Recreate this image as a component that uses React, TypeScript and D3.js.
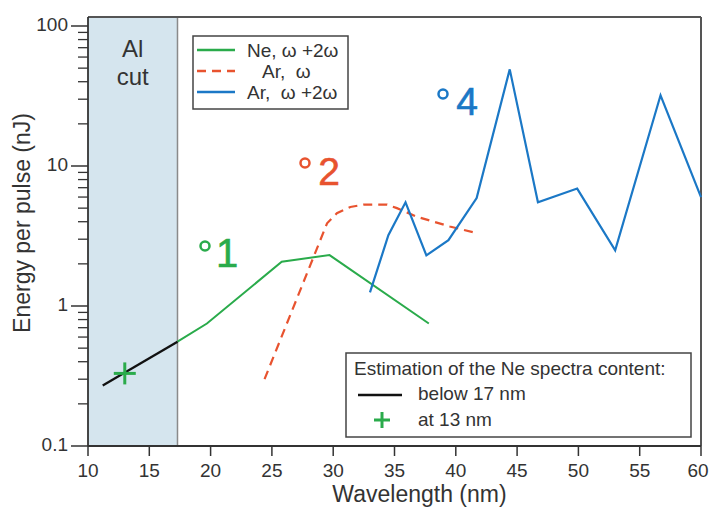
import React from "react";
import * as d3 from "d3";

const xTicks = [10, 15, 20, 25, 30, 35, 40, 45, 50, 55, 60];
const yTicks = [0.1, 1, 10, 100];
const yTickLabels = ["0.1", "1", "10", "100"];

const estWave = [11.2, 17.3];
const estVals = [0.27, 0.556];
const est13Wave = 13;
const est13Val = 0.33;

const neWave = [17.3, 19.7, 25.8, 29.7, 37.8];
const neVals = [0.556, 0.75, 2.07, 2.31, 0.75];

const arWWave = [24.4, 29.5, 30.3, 31.4, 32.5, 34.4, 35.2, 36.8, 39.5, 41.8];
const arWVals = [0.3, 3.9, 4.6, 5.1, 5.3, 5.3, 5.0, 4.35, 3.7, 3.3];

const arW2Wave = [33.0, 34.5, 35.9, 37.6, 39.4, 41.7, 44.4, 46.7, 49.9, 53.0, 56.7, 60];
const arW2Vals = [1.25, 3.2, 5.5, 2.3, 2.95, 5.9, 49, 5.5, 6.9, 2.5, 32, 6.0];

const alCutEdge = 17.3;

const GREEN = "#2aab4b";
const ORANGE = "#e8532f";
const BLUE = "#1b78c6";
const AXIS = "#333";
const FONT = "'Liberation Sans', Arial, Helvetica, sans-serif";

export default function App() {
  const W = 709, H = 509;
  const left = 88, right = 701, top = 17, bottom = 446;
  const x = d3.scaleLinear().domain([10, 60]).range([left, right]);
  const y = d3.scaleLog().domain([0.1, 100]).range([446, 26]);

  const line = d3.line<[number, number]>().x(d => x(d[0])).y(d => y(d[1]));
  const zip = (a: number[], b: number[]) => a.map((v, i) => [v, b[i]] as [number, number]);

  const minor: number[] = [];
  [0.1, 1, 10].forEach(dec => { for (let k = 2; k <= 9; k++) minor.push(dec * k); });

  const cx13 = x(est13Wave), cy13 = y(est13Val);

  return (
    <svg width={W} height={H} style={{ position: "absolute", left: 0, top: 0, background: "#fff" }} fontFamily={FONT}>
      {/* Al cut region */}
      <rect x={left} y={top} width={x(alCutEdge) - left} height={bottom - top} fill="#d5e5ee" />
      <line x1={x(alCutEdge)} x2={x(alCutEdge)} y1={top} y2={bottom} stroke="#8a8a8a" strokeWidth={1.5} />
      <text x={(left + x(alCutEdge)) / 2} y={57} textAnchor="middle" fontSize={24} fill="#333">Al</text>
      <text x={(left + x(alCutEdge)) / 2} y={85} textAnchor="middle" fontSize={24} fill="#333">cut</text>

      {/* frame */}
      <line x1={left} x2={right} y1={top} y2={top} stroke="#555" strokeWidth={2} />
      <line x1={right} x2={right} y1={top} y2={bottom} stroke="#555" strokeWidth={2} />
      <line x1={left} x2={left} y1={top} y2={bottom} stroke={AXIS} strokeWidth={1.8} />
      <line x1={left} x2={right} y1={bottom} y2={bottom} stroke={AXIS} strokeWidth={1.8} />

      {/* y ticks */}
      {yTicks.map((t, i) => (
        <g key={"yt" + t}>
          <line x1={left - 17} x2={left} y1={y(t)} y2={y(t)} stroke={AXIS} strokeWidth={1.5} />
          <text x={left - 20} y={y(t) + 5} textAnchor="end" fontSize={19} fill="#333">{yTickLabels[i]}</text>
        </g>
      ))}
      {minor.map(t => (
        <line key={"ym" + t} x1={left - 10} x2={left} y1={y(t)} y2={y(t)} stroke={AXIS} strokeWidth={1.3} />
      ))}

      {/* x ticks */}
      {xTicks.map((t, i) => (
        <g key={"xt" + t}>
          <line x1={x(t)} x2={x(t)} y1={bottom} y2={bottom + 10} stroke={AXIS} strokeWidth={1.5} />
          <text x={i === xTicks.length - 1 ? x(t) - 3 : x(t)} y={477} textAnchor="middle" fontSize={19} fill="#333">{t}</text>
        </g>
      ))}

      <text x={(left + right) / 2 + 25} y={502} textAnchor="middle" fontSize={23} fill="#333">Wavelength (nm)</text>
      <text transform={`translate(30,223) rotate(-90)`} textAnchor="middle" fontSize={23} fill="#333">Energy per pulse (nJ)</text>

      {/* data */}
      <path d={line(zip(neWave, neVals)) || ""} fill="none" stroke={GREEN} strokeWidth={2} />
      <path d={line(zip(arWWave, arWVals)) || ""} fill="none" stroke={ORANGE} strokeWidth={2.2} strokeDasharray="9,6" />
      <path d={line(zip(arW2Wave, arW2Vals)) || ""} fill="none" stroke={BLUE} strokeWidth={2.2} />
      <path d={line(zip(estWave, estVals)) || ""} fill="none" stroke="#111" strokeWidth={2.3} />
      <line x1={cx13 - 11} x2={cx13 + 11} y1={cy13} y2={cy13} stroke={GREEN} strokeWidth={3} />
      <line x1={cx13} x2={cx13} y1={cy13 - 11} y2={cy13 + 11} stroke={GREEN} strokeWidth={3} />

      {/* annotations */}
      <circle cx={205} cy={246} r={4.5} fill="none" stroke={GREEN} strokeWidth={2.5} />
      <text x={227} y={267} textAnchor="middle" fontSize={40} fill={GREEN} stroke={GREEN} strokeWidth={0.6}>1</text>
      <circle cx={305} cy={163} r={4.5} fill="none" stroke={ORANGE} strokeWidth={2.5} />
      <text x={329} y={185} textAnchor="middle" fontSize={39} fill={ORANGE} stroke={ORANGE} strokeWidth={0.6}>2</text>
      <circle cx={443} cy={94} r={4.5} fill="none" stroke={BLUE} strokeWidth={2.5} />
      <text x={467} y={115} textAnchor="middle" fontSize={39} fill={BLUE} stroke={BLUE} strokeWidth={0.6}>4</text>

      {/* legend 1 */}
      <rect x={193} y={36} width={155} height={73} fill="#fff" stroke="#444" strokeWidth={1.5} />
      <line x1={197} x2={235} y1={50} y2={50} stroke={GREEN} strokeWidth={2.5} />
      <text x={247} y={57} fontSize={19} fill="#333">Ne, ω +2ω</text>
      <line x1={197} x2={235} y1={71} y2={71} stroke={ORANGE} strokeWidth={2.5} strokeDasharray="9,6" />
      <text x={262} y={78} fontSize={19} fill="#333" style={{ whiteSpace: "pre" }}>{"Ar,  ω"}</text>
      <line x1={197} x2={235} y1={92} y2={92} stroke={BLUE} strokeWidth={2.5} />
      <text x={247} y={99} fontSize={19} fill="#333" style={{ whiteSpace: "pre" }}>{"Ar,  ω +2ω"}</text>

      {/* legend 2 */}
      <rect x={346} y={353} width={345} height={84} fill="#fff" stroke="#444" strokeWidth={1.5} />
      <text x={354} y={375} fontSize={19} fill="#333">Estimation of the Ne spectra content:</text>
      <line x1={358} x2={402} y1={395} y2={395} stroke="#111" strokeWidth={2.3} />
      <text x={418} y={400} fontSize={19} fill="#333">below 17 nm</text>
      <line x1={374} x2={390} y1={420} y2={420} stroke={GREEN} strokeWidth={3} />
      <line x1={382} x2={382} y1={412} y2={428} stroke={GREEN} strokeWidth={3} />
      <text x={418} y={426} fontSize={19} fill="#333">at 13 nm</text>
    </svg>
  );
}
